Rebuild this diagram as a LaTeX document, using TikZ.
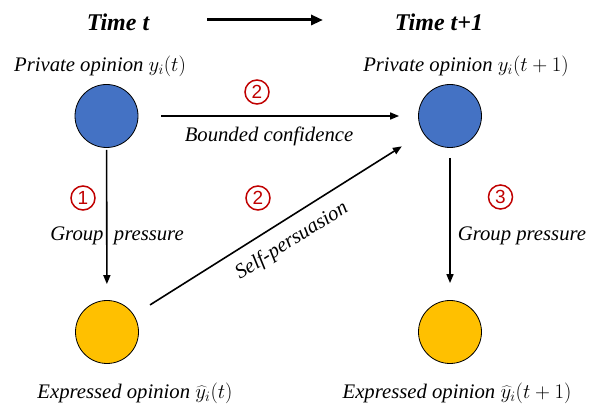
\documentclass[tikz,border=0pt]{standalone}
\usepackage{fontspec}
\setmainfont{Liberation Serif}
\newfontfamily\tnr{Liberation Serif}
\newfontfamily\arial{Liberation Sans}
\usetikzlibrary{arrows.meta}
\definecolor{opblue}{HTML}{4472C4}
\definecolor{opyellow}{HTML}{FFC000}
\definecolor{numred}{HTML}{C00000}
\begin{document}
\begin{tikzpicture}[x=1pt,y=-1pt,
  lbl/.style={font=\tnr\fontsize{20.7}{24}\selectfont\itshape, inner sep=1pt},
  titlelbl/.style={font=\tnr\fontsize{24}{28}\selectfont\bfseries\itshape, inner sep=1pt},
  privnode/.style={circle,draw=black,line width=0.8pt,fill=opblue,minimum size=63pt,inner sep=0pt},
  exprnode/.style={circle,draw=black,line width=0.8pt,fill=opyellow,minimum size=63pt,inner sep=0pt},
  num/.style={circle,draw=numred,line width=1.5pt,text=numred,font=\arial\fontsize{19}{20}\selectfont,minimum size=24pt,inner sep=0pt},
  conn/.style={line width=1.6pt,-{Triangle[length=9pt,width=7pt]}},
  timearrow/.style={line width=3pt,-{Triangle[length=12pt,width=10pt]}}
]
\useasboundingbox (0,0) rectangle (589,411);
% titles
\node[titlelbl] (tt) at (118,22) {Time t};
\node[titlelbl] (tt1) at (439,22) {Time t+1};
\coordinate (ta) at (207,20);
\coordinate (tb) at (323,20);
\draw[timearrow] (ta) -- (tb);
% opinion nodes
\node[privnode] (p0) at (106.5,116) {};
\node[privnode] (p1) at (450,116) {};
\node[exprnode] (e0) at (107,332) {};
\node[exprnode] (e1) at (450,332) {};
% opinion labels
\node[lbl] (lp0) at (100,66) {Private opinion $y_i(t)$};
\node[lbl] (lp1) at (466,66) {Private opinion $y_i(t+1)$};
\node[lbl] (le0) at (135,393) {Expressed opinion $\widehat{y}_i(t)$};
\node[lbl] (le1) at (457,393) {Expressed opinion $\widehat{y}_i(t+1)$};
% connectors
\draw[conn,shorten <=23pt,shorten >=19pt] (p0) -- (p1);
\draw[conn,shorten <=2pt,shorten >=16pt] (p0) -- (e0);
\draw[conn,shorten <=10pt,shorten >=17pt] (p1) -- (e1);
\draw[conn,shorten <=19pt,shorten >=25pt] (e0) -- (p1);
% connector labels
\node[lbl] (bc) at (269,136) {Bounded confidence};
\node[lbl] (gp0) at (117,236) {Group\ \ pressure};
\node[lbl] (gp1) at (522,236) {Group pressure};
\node[lbl,rotate=32.2] (sp) at (292,241) {Self-persuasion};
% step numbers
\node[num] (n1) at (83,198) {1};
\node[num] (n2a) at (257,92) {2};
\node[num] (n2b) at (258,198) {2};
\node[num] (n3) at (500.5,197) {3};
\end{tikzpicture}
\end{document}
